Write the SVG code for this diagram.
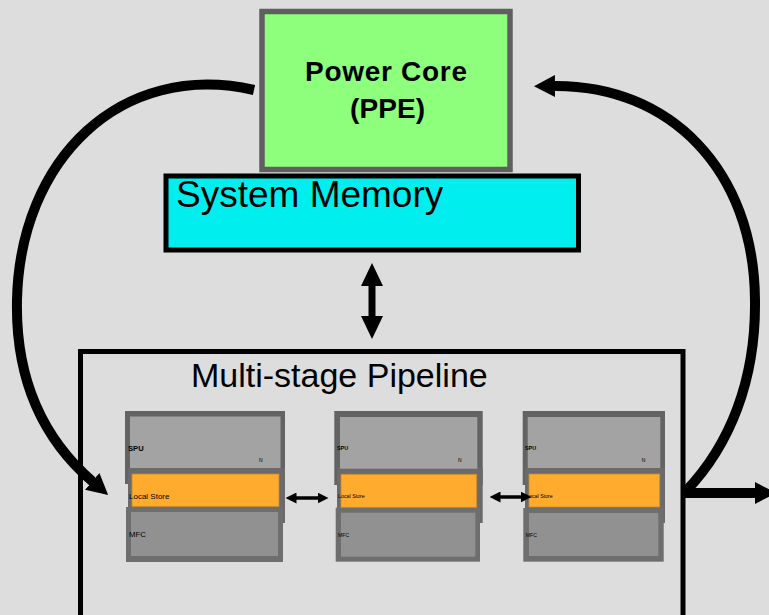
<svg xmlns="http://www.w3.org/2000/svg" width="769" height="615" viewBox="0 0 769 615">
<defs>
<style>
.frameA{fill:#636363}
.frameB{fill:#6a6a6a}
.frameC{fill:#6e6e6e}
.spu{fill:#a3a3a3}
.ls{fill:#ffab2e;stroke:#c98a2a;stroke-width:0.8}
.mfc{fill:#919191}
.t{font-family:"Liberation Sans",Arial,sans-serif;fill:#000}
.conn{fill:none;stroke:#000}
</style>
<marker id="bigHead" markerUnits="userSpaceOnUse" markerWidth="22" markerHeight="22" viewBox="0 0 22 22" refX="1" refY="11" orient="auto-start-reverse">
<path d="M0,0 L21,11 L0,22 Z" fill="#000"/>
</marker>
<marker id="dblHead" markerUnits="userSpaceOnUse" markerWidth="23" markerHeight="22" viewBox="0 0 23 22" refX="1" refY="11" orient="auto-start-reverse">
<path d="M0,0 L23,11 L0,22 Z" fill="#000"/>
</marker>
<marker id="smallHead" markerUnits="userSpaceOnUse" markerWidth="11" markerHeight="11" viewBox="0 0 11 11" refX="1" refY="5.5" orient="auto-start-reverse">
<path d="M0,0 L11,5.5 L0,11 Z" fill="#000"/>
</marker>
</defs>
<rect x="0" y="0" width="769" height="615" fill="#dddddd"/>

<g id="ppe">
<rect x="262" y="11.5" width="248" height="158" fill="#8eff7c" stroke="#5f5f5f" stroke-width="5.5"/>
<text class="t" x="386" y="81" font-size="28" font-weight="bold" text-anchor="middle" textLength="162" lengthAdjust="spacing">Power Core</text>
<text class="t" x="387.5" y="118" font-size="28" font-weight="bold" text-anchor="middle" textLength="75" lengthAdjust="spacing">(PPE)</text>
</g>

<g id="memory">
<rect x="166" y="176" width="412.5" height="74" fill="#00efee" stroke="#000" stroke-width="5"/>
<text class="t" x="176" y="207" font-size="37">System Memory</text>
</g>

<g id="pipeline">
<rect x="80.5" y="351.5" width="602.5" height="300" fill="none" stroke="#000" stroke-width="5"/>
<text class="t" x="191" y="387" font-size="34">Multi-stage Pipeline</text>
</g>

<g id="spe1">
<rect class="frameA" x="125" y="411" width="160" height="73"/>
<rect class="frameB" x="128" y="468" width="157" height="55"/>
<rect class="frameC" x="126" y="507" width="157" height="55"/>
<rect class="spu" x="130" y="416.5" width="150.5" height="51.5"/>
<rect class="ls" x="132" y="474" width="147" height="32.5"/>
<rect class="mfc" x="131" y="512" width="147" height="44"/>
<text class="t" x="128" y="451" font-size="7.6" font-weight="bold">SPU</text>
<text class="t" x="259" y="462" font-size="5">N</text>
<text class="t" x="129" y="499" font-size="8">Local Store</text>
<text class="t" x="129" y="537" font-size="7.8">MFC</text>
</g>

<g id="spe2">
<rect class="frameA" x="334.3" y="411" width="148.4" height="74"/>
<rect class="frameB" x="337" y="468" width="145.7" height="55"/>
<rect class="frameC" x="335.7" y="507.7" width="144.3" height="54"/>
<rect class="spu" x="340" y="417" width="137.3" height="51.7"/>
<rect class="ls" x="341" y="474.3" width="135.7" height="33"/>
<rect class="mfc" x="341" y="512.7" width="134.3" height="44"/>
<text class="t" x="337" y="450" font-size="5.4" font-weight="bold">SPU</text>
<text class="t" x="458" y="462" font-size="5">N</text>
<text class="t" x="338" y="497.7" font-size="5.3">Local Store</text>
<text class="t" x="338" y="536.7" font-size="5.2">MFC</text>
</g>

<g id="spe3">
<rect class="frameA" x="522.7" y="411" width="142.3" height="74"/>
<rect class="frameB" x="525" y="468" width="140" height="55"/>
<rect class="frameC" x="523.3" y="508" width="140.4" height="53.7"/>
<rect class="spu" x="527.7" y="417" width="132.6" height="51"/>
<rect class="ls" x="529" y="474" width="130.7" height="33"/>
<rect class="mfc" x="529" y="513" width="129.3" height="43"/>
<text class="t" x="525" y="450" font-size="5.4" font-weight="bold">SPU</text>
<text class="t" x="641.7" y="462" font-size="5">N</text>
<text class="t" x="526" y="497.7" font-size="5.3">Local Store</text>
<text class="t" x="525.7" y="537" font-size="5.2">MFC</text>
</g>

<g id="connectors">
<path class="conn" stroke-width="10" d="M254 90 C120 60 20 160 17 300 C15 390 50 445 93 482" marker-end="url(#bigHead)"/>
<path class="conn" stroke-width="10" d="M686 491 C730 445 756 380 755 300 C754 170 670 85 554 86" marker-end="url(#bigHead)"/>
<path class="conn" stroke-width="10" d="M684 493 H756" marker-end="url(#bigHead)"/>
<path class="conn" stroke-width="7" d="M372 285 V317" marker-start="url(#dblHead)" marker-end="url(#dblHead)"/>
<path class="conn" stroke-width="3.5" d="M295.5 498 H318.5" marker-start="url(#smallHead)" marker-end="url(#smallHead)"/>
<path class="conn" stroke-width="3.5" d="M499.5 497 H521.5" marker-start="url(#smallHead)" marker-end="url(#smallHead)"/>
</g>
</svg>
